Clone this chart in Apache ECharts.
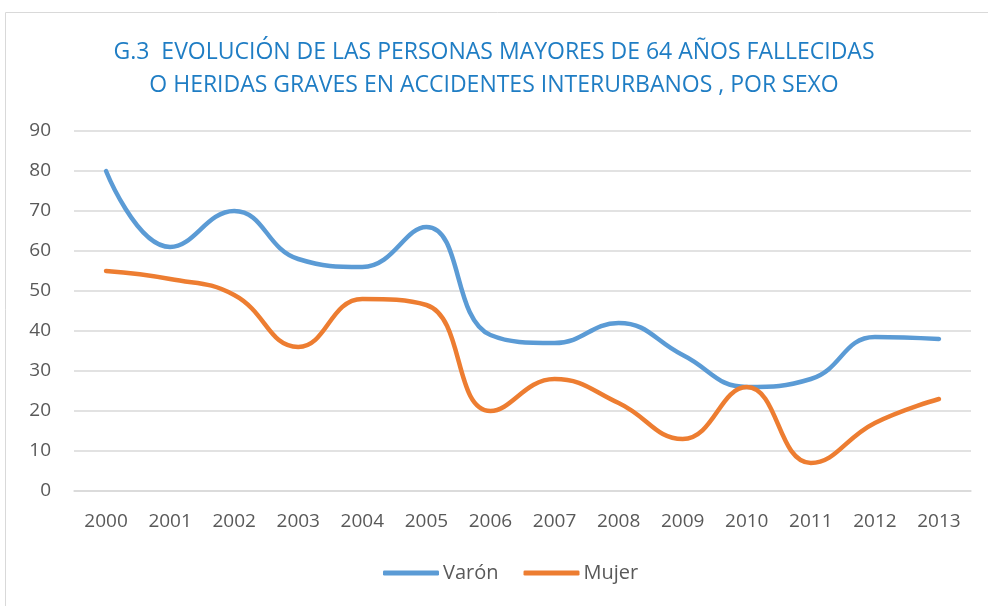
<!DOCTYPE html>
<html><head><meta charset="utf-8">
<script src="https://cdn.jsdelivr.net/npm/echarts@6/dist/echarts.min.js"></script>
<style>html,body{margin:0;padding:0;background:#fff}#c{width:988px;height:606px}</style>
</head><body><div id="c"></div>
<script>
const years = ['2000','2001','2002','2003','2004','2005','2006','2007','2008','2009','2010','2011','2012','2013'];
const varon = [80, 61, 70, 58, 56, 66, 39, 37, 42, 34, 26, 28, 38.5, 38];
const mujer = [55, 53, 49, 36, 48, 46.5, 20, 28, 22, 13, 26, 7, 17, 23];
const titleText = 'G.3  EVOLUCIÓN DE LAS PERSONAS MAYORES DE 64 AÑOS FALLECIDAS\nO HERIDAS GRAVES EN ACCIDENTES INTERURBANOS , POR SEXO';
const font = 'Open Sans';
const chart = echarts.init(document.getElementById('c'));
chart.setOption({
  animation: false,
  graphic: [{type:'rect', shape:{x:5.5, y:12.5, width:1000, height:700}, style:{fill:'none', stroke:'#d9d9d9', lineWidth:1}, z:-1}],
  title: {text: titleText, left: 'center', top: 31, textStyle:{fontFamily: font, fontWeight:'normal', fontSize:23, color:'#1F7DC4', lineHeight:33}},
  legend: {bottom: 18, left: 378, itemWidth:56, itemHeight:5, itemGap:25, icon:'roundRect',
    textStyle:{fontFamily: font, fontSize:20, color:'#595959', padding:[0,0,0,-1]}},
  grid: {left: 74, right: 17, top: 131, bottom: 115},
  xAxis: {type:'category', data: years, boundaryGap:true,
    axisLine:{show:true, lineStyle:{color:'#d9d9d9', width:1.5}}, axisTick:{show:false},
    axisLabel:{fontFamily: font, fontSize:19, color:'#595959', margin:21}},
  yAxis: {type:'value', min:0, max:90, interval:10,
    axisLine:{show:false}, axisTick:{show:false},
    splitLine:{lineStyle:{color:'#d9d9d9', width:1.5}},
    axisLabel:{fontFamily: font, fontSize:19, color:'#595959', margin:23}},
  series: [
    {name:'Varón', type:'line', data: varon, smooth:0.45, symbol:'none', lineStyle:{color:'#5B9BD5', width:4.5, cap:'round'}, itemStyle:{color:'#5B9BD5'}},
    {name:'Mujer', type:'line', data: mujer, smooth:0.45, symbol:'none', lineStyle:{color:'#ED7D31', width:4.5, cap:'round'}, itemStyle:{color:'#ED7D31'}}
  ]
});
</script></body></html>
